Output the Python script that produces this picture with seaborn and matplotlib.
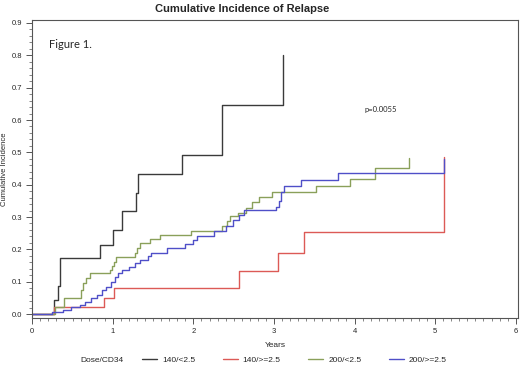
import seaborn as sns
import pandas as pd
import matplotlib.pyplot as plt
from matplotlib.ticker import MultipleLocator, FormatStrFormatter

# step points (years, cumulative incidence)
black_x = [0, 0.27, 0.32, 0.35, 0.84, 1.00, 1.12, 1.29, 1.31, 1.86, 2.36, 3.11]
black_y = [0, 0.043, 0.087, 0.172, 0.215, 0.260, 0.318, 0.375, 0.433, 0.492, 0.646, 0.800]

red_x = [0, 0.27, 0.89, 1.01, 2.56, 3.05, 3.37, 5.11]
red_y = [0, 0.023, 0.050, 0.081, 0.134, 0.189, 0.254, 0.486]

green_x = [0, 0.28, 0.40, 0.60, 0.63, 0.67, 0.72, 0.96, 0.99, 1.01, 1.04, 1.28, 1.30,
           1.34, 1.46, 1.59, 1.97, 2.36, 2.42, 2.46, 2.55, 2.65, 2.73, 2.82, 2.98,
           3.52, 3.94, 4.25, 4.68]
green_y = [0, 0.022, 0.049, 0.074, 0.095, 0.110, 0.126, 0.136, 0.149, 0.162, 0.175, 0.190, 0.203,
           0.219, 0.232, 0.245, 0.257, 0.272, 0.289, 0.303, 0.313, 0.327, 0.345, 0.361, 0.377,
           0.395, 0.417, 0.451, 0.482]

blue_x = [0, 0.25, 0.38, 0.48, 0.59, 0.65, 0.73, 0.80, 0.86, 0.92, 0.98, 1.03, 1.07, 1.12,
          1.20, 1.28, 1.34, 1.44, 1.48, 1.67, 1.90, 2.00, 2.05, 2.25, 2.40, 2.49, 2.56,
          2.63, 3.02, 3.06, 3.09, 3.12, 3.34, 3.80, 5.11]
blue_y = [0, 0.007, 0.012, 0.021, 0.028, 0.038, 0.049, 0.059, 0.074, 0.085, 0.100, 0.115, 0.126, 0.135,
          0.145, 0.157, 0.167, 0.180, 0.190, 0.203, 0.216, 0.229, 0.241, 0.257, 0.272, 0.291, 0.306,
          0.322, 0.332, 0.348, 0.376, 0.396, 0.415, 0.437, 0.479]

groups = ['140/<2.5', '140/>=2.5', '200/<2.5', '200/>=2.5']
colors = ['#3a3a3a', '#dc5a56', '#8aa05a', '#4f4fc8']

frames = []
for g, xs, ys in zip(groups, [black_x, red_x, green_x, blue_x], [black_y, red_y, green_y, blue_y]):
    frames.append(pd.DataFrame({'Years': xs, 'ci': ys, 'Dose/CD34': g}))
df = pd.concat(frames, ignore_index=True)

sns.set_style("ticks")
plt.rcParams['font.family'] = ['Liberation Sans', 'DejaVu Sans']

fig = plt.figure(figsize=(5.2, 3.65), dpi=100)
ax = fig.add_axes([0.062, 0.129, 0.9336, 0.816])

sns.lineplot(data=df, x='Years', y='ci', hue='Dose/CD34', hue_order=groups,
             palette=dict(zip(groups, colors)), estimator=None, sort=False,
             drawstyle='steps-post', linewidth=1.0, ax=ax)

ax.set_xlim(0, 6.025)
ax.set_ylim(-0.012, 0.909)
ax.xaxis.set_major_locator(MultipleLocator(1))
ax.xaxis.set_minor_locator(MultipleLocator(0.1))
ax.yaxis.set_major_locator(MultipleLocator(0.1))
ax.yaxis.set_minor_locator(MultipleLocator(0.02))
ax.yaxis.set_major_formatter(FormatStrFormatter('%.1f'))
ax.tick_params(which='major', length=4, width=0.7, color='#555555', labelsize=5.5, pad=3)
ax.tick_params(which='minor', length=2, width=0.5, color='#555555')
for s in ax.spines.values():
    s.set_color('#555555')
    s.set_linewidth(0.8)

ax.set_xlabel('Years', fontsize=6, labelpad=5)
ax.set_ylabel('Cumulative Incidence', fontsize=5.5, labelpad=3)

sns.move_legend(ax, 'center left', bbox_to_anchor=(142 / 520, 5 / 365), bbox_transform=fig.transFigure,
                ncol=4, title=None, frameon=False, fontsize=6, handlelength=1.8,
                columnspacing=3.3, handletextpad=0.6, borderpad=0, borderaxespad=0)
fig.text(80 / 520, 5 / 365, 'Dose/CD34', fontsize=6, va='center', ha='left')

fig.text(242 / 520, 1 - 9 / 365, 'Cumulative Incidence of Relapse', fontsize=8,
         fontweight='bold', ha='center', va='center')
ax.text(0.21, 0.833, 'Figure 1.', fontsize=8, family=['Lato', 'DejaVu Sans'],
        ha='left', va='center')
ax.text(4.32, 0.632, 'p=0.0055', fontsize=5.5, family=['Lato', 'DejaVu Sans'],
        ha='center', va='center')

fig.savefig('out.png', dpi=100)
